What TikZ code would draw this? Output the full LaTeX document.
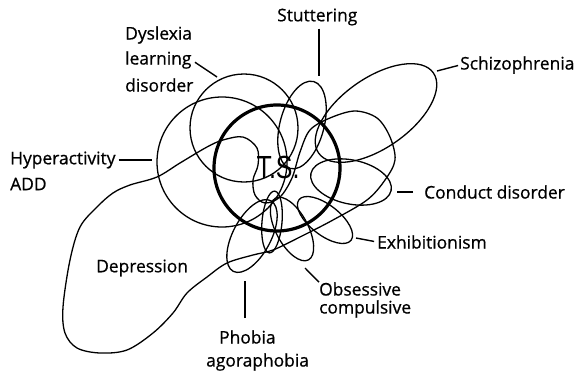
\documentclass[tikz,border=0pt]{standalone}
\usepackage{fontspec}
\usepackage{graphicx}
\newfontfamily\labfont[FakeBold=0.7]{Open Sans}
\newfontfamily\tsfont{Liberation Sans}
\begin{document}
\begin{tikzpicture}[x=1pt,y=-1pt,
  blob/.style={draw=black, line width=1.3pt},
  tsring/.style={draw=black, line width=3.2pt},
  leader/.style={draw=black, line width=1.4pt},
  lab/.style={font=\labfont\fontsize{17.4}{20}\selectfont, inner sep=0pt, text=black}]
\fill[white] (0,0) rectangle (577,372);
\useasboundingbox (0,0) rectangle (577,372);

% depression blob
\draw[blob] plot[smooth cycle, tension=0.55] coordinates {
 (207,147) (223,140) (243,137) (257,148) (258,165) (253,180) (255,195) (265,203)
 (280,197) (292,178) (300,152) (310,130) (330,118) (355,111) (377,118) (390,137)
 (395,160) (385,180) (367,200) (333,220) (300,237) (273,250) (253,255) (227,263)
 (207,277) (187,293) (173,313) (153,333) (127,350) (100,353) (77,348) (65,333)
 (63,307) (70,260) (80,227) (97,207) (113,193) (130,185) (157,177) (180,163)};

% circles
\draw[blob] (244,128) circle[radius=54pt];
\draw[blob] (222,162) circle[radius=65pt];
% ellipses
\draw[blob, rotate around={-15:(302,125)}] (302,125) ellipse[x radius=22pt, y radius=45pt];
\draw[blob, rotate around={35:(376,113)}] (376,113) ellipse[x radius=70pt, y radius=35pt];
\draw[blob, rotate around={-12:(351,182)}] (351,182) ellipse[x radius=41pt, y radius=22pt];
\draw[blob, rotate around={-38:(325,220)}] (325,220) ellipse[x radius=33pt, y radius=15pt];
\draw[blob, rotate around={-62:(292,229)}] (292,229) ellipse[x radius=35pt, y radius=16pt];
\draw[blob, rotate around={62:(252,236)}] (252,236) ellipse[x radius=40pt, y radius=19pt];
\draw[blob, rotate around={-5:(272,222)}] (272,222) ellipse[x radius=10pt, y radius=31pt];

% T.S. ring
\draw[tsring] (277,168) circle[radius=63pt];
\node[inner sep=0pt, fill=none] (ts) at (278,167) {\scalebox{0.78}[1]{\tsfont\fontsize{32}{32}\selectfont T.S.}};

% labels
\node[lab, anchor=west] (stut) at (277,17) {Stuttering};
\node[lab, anchor=west] (schizo) at (460,65) {Schizophrenia};
\node[lab, anchor=west] (cond) at (424,192) {Conduct disorder};
\node[lab, anchor=west] (exhib) at (377,242) {Exhibitionism};
\node[lab, anchor=west] (obs1) at (319,289) {Obsessive};
\node[lab, anchor=west] (obs2) at (319,309) {compulsive};
\node[lab, anchor=west] (phob1) at (219,337) {Phobia};
\node[lab, anchor=west] (phob2) at (206,362) {agoraphobia};
\node[lab, anchor=west] (dep) at (96,268) {Depression};
\node[lab, anchor=west] (hyp1) at (10,160) {Hyperactivity};
\node[lab, anchor=west] (hyp2) at (10,184) {ADD};
\node[lab, anchor=west] (dys1) at (125,35) {Dyslexia};
\node[lab, anchor=west] (dys2) at (125,60) {learning};
\node[lab, anchor=west] (dys3) at (125,85) {disorder};

% leader ends
\coordinate (stutE) at (319,76);
\coordinate (schizoE) at (437,71);
\coordinate (condE) at (397,192);
\coordinate (exhibE) at (356,238);
\coordinate (obsE) at (305,268);
\coordinate (phobE) at (245,281);
\coordinate (hypE) at (152,160);
\coordinate (dysE) at (217,77);

\draw[leader] (stut.south -| stutE) ++(0,3) -- (stutE);
\draw[leader, shorten <=2pt] (schizo.west) -- (schizoE);
\draw[leader, shorten <=11pt] (cond.west) -- (condE);
\draw[leader, shorten <=3pt] (exhib.west) -- (exhibE);
\draw[leader] (obs1.north west) -- (obsE);
\draw[leader, shorten <=12pt] (phob1.north -| phobE) -- (phobE);
\draw[leader, shorten <=3pt] (hyp1.east) -- (hypE);
\draw[leader, shorten <=4pt] (dys2.east) -- (dysE);
\end{tikzpicture}
\end{document}
